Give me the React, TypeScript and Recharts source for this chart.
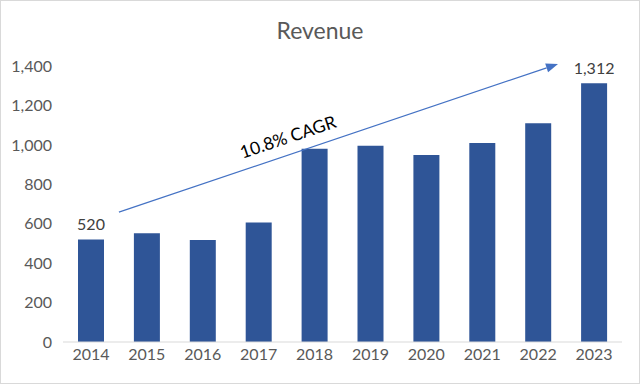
import { BarChart, Bar, XAxis, YAxis, LabelList, ReferenceLine, ReferenceDot } from 'recharts'

const years = ['2014', '2015', '2016', '2017', '2018', '2019', '2020', '2021', '2022', '2023']
const revenue = [520, 552, 518, 606, 980, 995, 948, 1009, 1110, 1312]
const barLabels = ['520', null, null, null, null, null, null, null, null, '1,312']
const yTicks = [0, 200, 400, 600, 800, 1000, 1200, 1400]

// CAGR arrow, in data units of the hidden numeric axis (category index) and revenue
const arrowStart = { x: 0.5, y: 659 }
const arrowEnd = { x: 8.355, y: 1410 }
const cagrText = { x: 3.525, y: 1040, label: '10.8% CAGR' }

const data = years.map((year, i) => ({ year, idx: i, revenue: revenue[i], label: barLabels[i] }))

const FONT = 'Lato, "Open Sans", sans-serif'
const GREY = '#595959'

function ArrowShape(props: any) {
  const { x1, y1, x2, y2 } = props
  const dx = x2 - x1
  const dy = y2 - y1
  const len = Math.sqrt(dx * dx + dy * dy) || 1
  const ux = dx / len
  const uy = dy / len
  const head = 12
  const half = 4.5
  const bx = x2 - ux * head
  const by = y2 - uy * head
  const pts = `${x2},${y2} ${bx - uy * half},${by + ux * half} ${bx + uy * half},${by - ux * half}`
  return (
    <g>
      <line x1={x1} y1={y1} x2={bx} y2={by} stroke="#4472C4" strokeWidth={1.2} />
      <polygon points={pts} fill="#4472C4" />
    </g>
  )
}

export default function App() {
  return (
    <div
      style={{
        position: 'absolute',
        left: 0,
        top: 0,
        width: 638,
        height: 382,
        border: '1px solid #d9d9d9',
        background: '#fff',
        fontFamily: FONT,
      }}
    >
      <div
        style={{
          position: 'absolute',
          top: 15,
          left: 0,
          width: '100%',
          textAlign: 'center',
          fontSize: 23,
          color: GREY,
        }}
      >
        Revenue
      </div>
      <div style={{ position: 'absolute', left: -1, top: -1 }}>
        <BarChart
          width={640}
          height={384}
          data={data}
          margin={{ top: 66, right: 18, bottom: 12, left: 8 }}
        >
          <XAxis
            dataKey="year"
            tickLine={false}
            tickSize={0}
            tickMargin={7}
            axisLine={{ stroke: '#d9d9d9' }}
            tick={{ fill: GREY, fontSize: 16, fontFamily: FONT }}
            height={30}
          />
          <XAxis
            xAxisId="anno"
            dataKey="idx"
            type="number"
            scale="linear"
            domain={[-0.5, 9.5]}
            allowDataOverflow
            hide
          />
          <YAxis
            domain={[0, 1400]}
            ticks={yTicks}
            width={55}
            axisLine={false}
            tickLine={false}
            tickSize={0}
            tickMargin={11}
            tick={{ fill: GREY, fontSize: 16, fontFamily: FONT }}
            tickFormatter={(v: number) => v.toLocaleString('en-US')}
          />
          <Bar dataKey="revenue" fill="#2F5597" barSize={26} isAnimationActive={false}>
            <LabelList
              dataKey="label"
              position="top"
              offset={9}
              fill="#404040"
              fontSize={16}
              fontFamily={FONT}
            />
          </Bar>
          <ReferenceLine
            xAxisId="anno"
            segment={[arrowStart, arrowEnd]}
            ifOverflow="visible"
            shape={ArrowShape}
          />
          <ReferenceDot
            xAxisId="anno"
            x={cagrText.x}
            y={cagrText.y}
            r={0}
            fill="none"
            stroke="none"
            ifOverflow="visible"
            label={{
              value: cagrText.label,
              position: 'center',
              angle: -18.6,
              fontSize: 17.5,
              fill: '#000',
              fontFamily: FONT,
            }}
          />
        </BarChart>
      </div>
    </div>
  )
}
